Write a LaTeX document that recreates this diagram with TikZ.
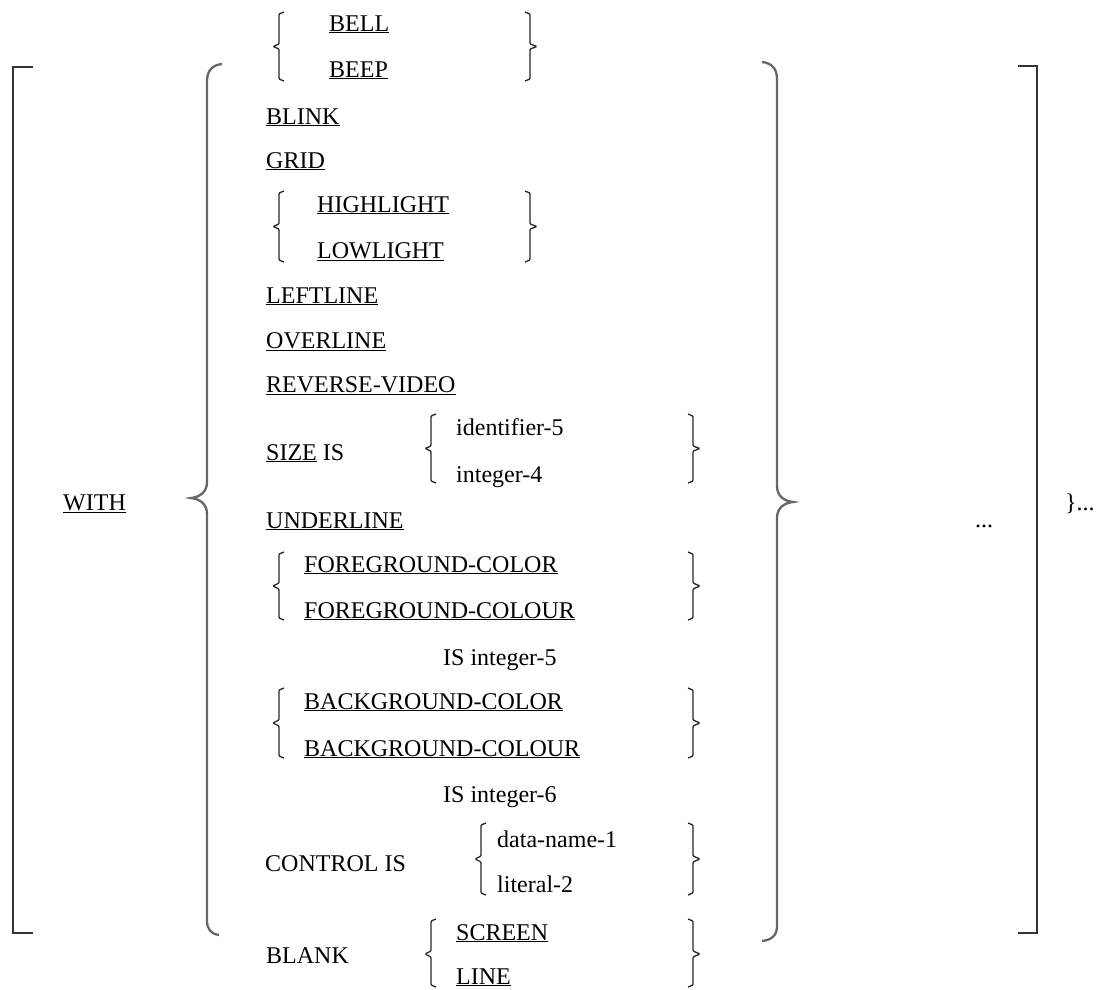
\documentclass[tikz,border=0pt]{standalone}
\usepackage{fontspec}
\setmainfont{Liberation Serif}
\usepackage{tikz}

\begin{document}
\begin{tikzpicture}[x=1pt, y=-1pt,
  kw/.style={anchor=base west, inner sep=0pt, font=\fontsize{24}{28}\selectfont},
  curly/.style={draw=black!85, line width=1.3pt, rounded corners=1pt},
  bigcurly/.style={draw=black!60, line width=2.3pt},
  bracketline/.style={draw=black!80, line width=2pt}
]
\useasboundingbox (0,0) rectangle (1102,989);

% outer brackets
\draw[bracketline] (33,67) -- (13,67) -- (13,933) -- (33,933);
\draw[bracketline] (1018,66) -- (1037,66) -- (1037,933) -- (1018,933);

% big braces
\draw[bigcurly] (222,64) .. controls (212,65) and (207,71) .. (207,81) -- (207,482)
  .. controls (207,492) and (200,497) .. (191,498) .. controls (200,499) and (207,504) .. (207,514)
  -- (207,921) .. controls (207,929) and (211,934) .. (219,935);
\draw[bigcurly] (762,62) .. controls (772,63) and (777,69) .. (777,79) -- (777,486)
  .. controls (777,496) and (784,501) .. (793,502) .. controls (784,503) and (777,508) .. (777,518)
  -- (777,926) .. controls (777,935) and (772,940) .. (762,941);

\node[kw] (with) at (63,510) {\underline{WITH}};

\node[kw] (bell) at (329,31) {\underline{BELL}};
\node[kw] (beep) at (329,77) {\underline{BEEP}};
\node[kw] (blink) at (266,124) {\underline{BLINK}};
\node[kw] (grid) at (266,168) {\underline{GRID}};
\node[kw] (highlight) at (317,212) {\underline{HIGHLIGHT}};
\node[kw] (lowlight) at (317,258) {\underline{LOWLIGHT}};
\node[kw] (leftline) at (266,303) {\underline{LEFTLINE}};
\node[kw] (overline) at (266,348) {\underline{OVERLINE}};
\node[kw] (revvideo) at (266,392) {\underline{REVERSE-VIDEO}};
\node[kw] (ident) at (456,435) {identifier-5};
\node[kw] (sizeis) at (266,460) {\underline{SIZE} IS};
\node[kw] (intfour) at (456,482) {integer-4};
\node[kw] (underl) at (266,528) {\underline{UNDERLINE}};
\node[kw] (fgcolor) at (304,572) {\underline{FOREGROUND-COLOR}};
\node[kw] (fgcolour) at (304,618) {\underline{FOREGROUND-COLOUR}};
\node[kw] (isintfive) at (443,665) {IS integer-5};
\node[kw] (bgcolor) at (304,709) {\underline{BACKGROUND-COLOR}};
\node[kw] (bgcolour) at (304,756) {\underline{BACKGROUND-COLOUR}};
\node[kw] (isintsix) at (443,802) {IS integer-6};
\node[kw] (dataname) at (497,847) {data-name-1};
\node[kw] (control) at (265,871) {CONTROL IS};
\node[kw] (literal) at (497,892) {literal-2};
\node[kw] (screen) at (456,940) {\underline{SCREEN}};
\node[kw] (blank) at (266,963) {BLANK};
\node[kw] (line) at (456,984) {\underline{LINE}};

\node[kw] (dots) at (975,527) {...};
\node[kw] (repeat) at (1065,510) {\}...};

% small braces round the choices
\draw[curly] (284,12) -- (279,14) -- (279,44) -- (273,46.5) -- (279,49) -- (279,79) -- (284,81);
\draw[curly] (525,12) -- (530,14) -- (530,44) -- (537,46.5) -- (530,49) -- (530,79) -- (525,81);
\draw[curly] (284,191) -- (279,193) -- (279,224) -- (273,226.5) -- (279,229) -- (279,260) -- (284,262);
\draw[curly] (525,191) -- (530,193) -- (530,224) -- (537,226.5) -- (530,229) -- (530,260) -- (525,262);
\draw[curly] (436,414) -- (431,416) -- (431,446) -- (425,448.5) -- (431,451) -- (431,481) -- (436,483);
\draw[curly] (688,414) -- (693,416) -- (693,446) -- (700,448.5) -- (693,451) -- (693,481) -- (688,483);
\draw[curly] (284,552) -- (279,554) -- (279,583) -- (273,586) -- (279,589) -- (279,618) -- (284,620);
\draw[curly] (688,552) -- (693,554) -- (693,583) -- (700,586) -- (693,589) -- (693,618) -- (688,620);
\draw[curly] (284,688) -- (279,690) -- (279,720) -- (273,723) -- (279,726) -- (279,756) -- (284,758);
\draw[curly] (688,688) -- (693,690) -- (693,720) -- (700,723) -- (693,726) -- (693,756) -- (688,758);
\draw[curly] (486,823) -- (481,825) -- (481,856) -- (475,859) -- (481,862) -- (481,893) -- (486,895);
\draw[curly] (688,823) -- (693,825) -- (693,856) -- (700,859) -- (693,862) -- (693,893) -- (688,895);
\draw[curly] (436,919) -- (431,921) -- (431,951) -- (425,954) -- (431,957) -- (431,985) -- (436,987);
\draw[curly] (688,919) -- (693,921) -- (693,951) -- (700,954) -- (693,957) -- (693,985) -- (688,987);

\end{tikzpicture}
\end{document}
